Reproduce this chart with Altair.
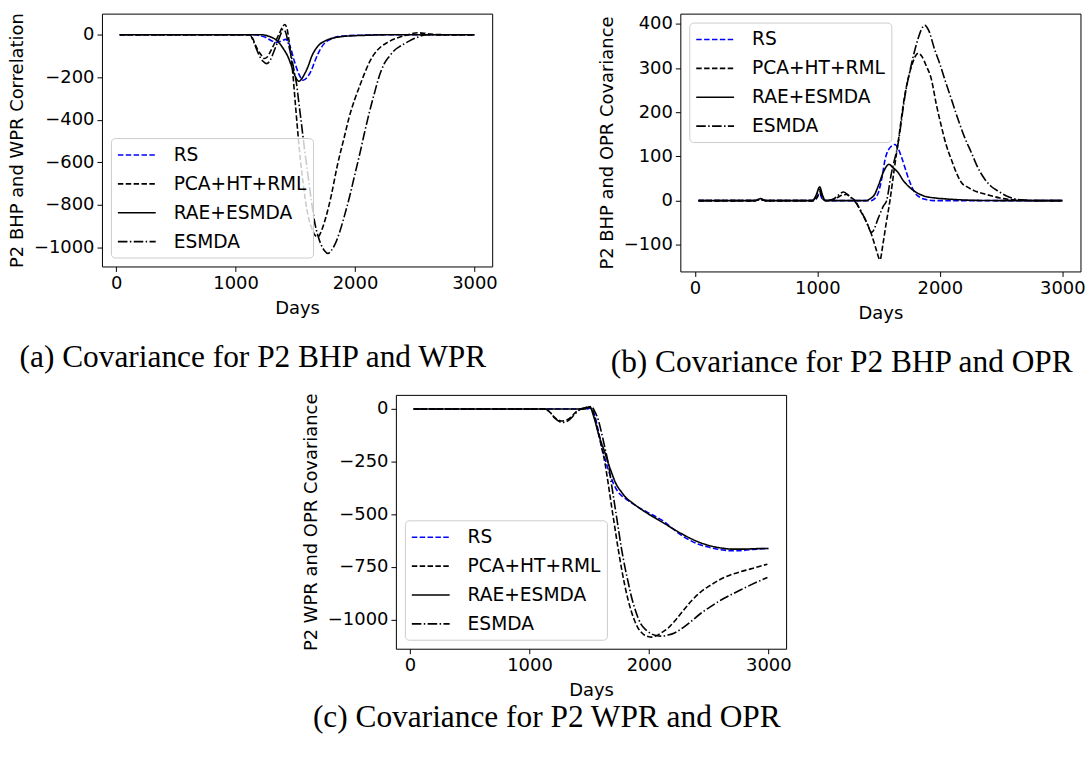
import altair as alt
import pandas as pd

METHODS = ["RS", "PCA+HT+RML", "RAE+ESMDA", "ESMDA"]
COLORS = ["#0000ff", "#000000", "#000000", "#000000"]
DASHES = [[5.5, 2.4], [5.5, 2.4], [1, 0], [9.6, 2.4, 1.5, 2.4]]

# ---------------- Panel (a): P2 BHP and WPR ----------------
a_rs_days = [30, 1130, 1200, 1250, 1300, 1340, 1380, 1420, 1450, 1490, 1530, 1565, 1600, 1635, 1660, 1690,
             1730, 1773, 1820, 1857, 1950, 2079, 2200, 3000]
a_rs_vals = [0, 0, -4, -12, -28, -36, -30, -22, -45, -120, -185, -214, -200, -167, -130, -90,
             -50, -28, -15, -9, -4, -2, 0, 0]
a_pca_days = [30, 1121, 1145, 1162, 1190, 1218, 1240, 1265, 1300, 1340, 1370, 1395, 1412, 1430, 1455, 1482,
              1500, 1524, 1545, 1565, 1585, 1607, 1635, 1662, 1690, 1720, 1760, 1801, 1850, 1912, 1950,
              1996, 2040, 2079, 2120, 2162, 2220, 2273, 2340, 2412, 2470, 2523, 2580, 2634, 2750, 3000]
a_pca_vals = [0, 0, -20, -43, -75, -98, -112, -105, -70, -25, 10, 38, 48, 30, -60, -198,
              -320, -477, -600, -694, -780, -850, -905, -940, -950, -920, -850, -756, -620, -477, -390,
              -307, -240, -183, -130, -90, -55, -36, -18, -5, 4, 9, 7, 3, 0, 0]
a_rae_days = [30, 1218, 1260, 1301, 1340, 1371, 1405, 1440, 1470, 1496, 1515, 1529, 1550, 1579, 1610, 1635,
              1670, 1704, 1740, 1773, 1830, 1885, 1980, 2079, 2200, 2350, 3000]
a_rae_vals = [0, 0, -4, -12, -25, -43, -70, -105, -150, -191, -212, -219, -210, -183, -145, -105,
              -68, -45, -32, -23, -14, -9, -5, -3, -1, 0, 0]
a_esm_days = [30, 1121, 1145, 1170, 1200, 1230, 1260, 1290, 1320, 1357, 1380, 1398, 1420, 1445, 1470, 1490,
              1510, 1530, 1551, 1580, 1607, 1635, 1662, 1690, 1718, 1745, 1773, 1800, 1829, 1870, 1912,
              1955, 1996, 2040, 2079, 2120, 2162, 2200, 2245, 2290, 2329, 2370, 2412, 2470, 2523, 2607, 3000]
a_esm_vals = [0, 0, -25, -60, -100, -125, -136, -120, -80, -28, 5, 26, 10, -50, -110, -170,
              -229, -320, -415, -550, -663, -780, -880, -945, -989, -1015, -1028, -1015, -989, -930, -850,
              -760, -663, -560, -462, -365, -276, -200, -136, -100, -74, -57, -43, -25, -12, 0, 0]

# ---------------- Panel (b): P2 BHP and OPR ----------------
b_rs_days = [30, 490, 536, 580, 965, 1000, 1019, 1040, 1070, 1440, 1470, 1498, 1530, 1553, 1600, 1634,
             1660, 1688, 1715, 1742, 1770, 1796, 1840, 1878, 1950, 3000]
b_rs_vals = [0, 0, 3, 0, 0, 8, 17, 4, 0, 0, 5, 18, 55, 93, 122, 127,
             118, 98, 75, 52, 32, 18, 7, 3, 0, 0]
b_pca_days = [30, 490, 536, 580, 965, 1000, 1019, 1040, 1070, 1150, 1200, 1240, 1280, 1308, 1350, 1390,
              1444, 1480, 1512, 1535, 1560, 1593, 1625, 1661, 1715, 1770, 1800, 1824, 1850, 1890, 1932,
              1970, 2013, 2050, 2094, 2140, 2176, 2230, 2284, 2350, 2419, 2490, 2555, 2650, 2750, 3000]
b_pca_vals = [0, 0, 3, 0, 0, 8, 20, 5, 0, 5, 12, 14, 6, 0, -22, -42,
              -78, -110, -134, -100, -55, 0, 65, 135, 240, 305, 327, 334, 328, 305, 274,
              220, 168, 128, 93, 60, 41, 30, 22, 16, 11, 6, 3, 1, 0, 0]
b_rae_days = [30, 490, 536, 580, 962, 990, 1019, 1045, 1065, 1400, 1430, 1470, 1500, 1540, 1585, 1620,
              1661, 1700, 1742, 1800, 1877, 1960, 2040, 2150, 2300, 2500, 3000]
b_rae_vals = [0, 0, 4.5, 0, 0, 12, 31, 10, 0, 0, 4, 15, 35, 65, 82, 74,
              63, 46, 33, 20, 10, 6, 4, 2, 0.5, 0, 0]
b_esm_days = [30, 490, 536, 580, 962, 990, 1019, 1045, 1065, 1130, 1170, 1214, 1260, 1300, 1350, 1400,
              1444, 1500, 1540, 1566, 1600, 1661, 1715, 1770, 1824, 1850, 1878, 1910, 1959, 2000, 2041,
              2100, 2149, 2200, 2257, 2310, 2366, 2420, 2474, 2540, 2610, 2700, 2800, 3000]
b_esm_vals = [0, 0, 3, 0, 0, 10, 25, 8, 0, 3, 12, 19.6, 10, 0, -20, -48,
              -72, -38, -12, 0, 55, 132, 236, 311, 368, 388, 397, 385, 341, 310, 274,
              225, 184, 145, 109, 75, 49, 32, 22, 11, 4, 1, 0, 0]

# ---------------- Panel (c): P2 WPR and OPR ----------------
c_rs_days = [30, 1480, 1510, 1547, 1575, 1603, 1630, 1658, 1700, 1742, 1785, 1825, 1900, 1992, 2060, 2131,
             2200, 2270, 2340, 2409, 2480, 2547, 2620, 2686, 2750, 2797, 2900, 3000]
c_rs_vals = [0, 0, 5, -33, -100, -175, -232, -285, -350, -394, -418, -434, -462, -492, -512, -536,
             -568, -599, -622, -641, -653, -662, -669, -673, -673, -671, -665, -662]
c_pca_days = [30, 1130, 1170, 1210, 1269, 1320, 1370, 1408, 1440, 1480, 1505, 1530, 1575, 1603, 1631, 1658,
              1686, 1714, 1742, 1770, 1797, 1825, 1853, 1880, 1908, 1936, 1964, 1992, 2020, 2060, 2103,
              2160, 2214, 2280, 2353, 2430, 2520, 2600, 2686, 2770, 2853, 2930, 2992]
c_pca_vals = [0, 0, -15, -40, -57, -50, -25, -5, 2, 8, 10, -10, -112, -180, -253, -350,
              -457, -560, -662, -755, -835, -905, -961, -1005, -1039, -1060, -1074, -1080, -1083, -1077, -1063,
              -1040, -1008, -962, -913, -870, -835, -808, -787, -772, -759, -746, -737]
c_rae_days = [30, 1464, 1505, 1540, 1575, 1603, 1631, 1658, 1686, 1720, 1770, 1810, 1853, 1920, 1992, 2060,
              2131, 2200, 2270, 2340, 2409, 2480, 2547, 2620, 2686, 2797, 2900, 3000]
c_rae_vals = [0, 0, 9, -40, -112, -162, -206, -255, -300, -350, -394, -422, -442, -470, -497, -520,
              -544, -568, -591, -612, -630, -644, -654, -661, -665, -665, -663, -662]
c_esm_days = [30, 1130, 1170, 1210, 1275, 1325, 1375, 1415, 1450, 1490, 1515, 1545, 1575, 1603, 1630, 1658,
              1686, 1714, 1742, 1770, 1797, 1825, 1853, 1881, 1908, 1936, 1978, 2020, 2060, 2103, 2160,
              2214, 2280, 2353, 2430, 2520, 2600, 2686, 2770, 2853, 2930, 2992]
c_esm_vals = [0, 0, -15, -42, -64, -55, -28, -5, 3, 9, 12, -10, -50, -112, -180, -253,
              -355, -457, -560, -662, -745, -819, -890, -945, -990, -1024, -1050, -1067, -1075, -1078, -1073,
              -1063, -1040, -1008, -972, -937, -908, -882, -858, -835, -815, -800]

X_TICKS = [0, 1000, 2000, 3000]
A_YTICKS = [0, -200, -400, -600, -800, -1000]
B_YTICKS = [-100, 0, 100, 200, 300, 400]
C_YTICKS = [0, -250, -500, -750, -1000]


def make_df(series):
    rows = []
    for name, days, vals in series:
        for i, (d, v) in enumerate(zip(days, vals)):
            rows.append({"Method": name, "Days": d, "Value": v, "order": i})
    return pd.DataFrame(rows)


def panel(df, ydom, yticks, ytitle, caption, lorient, w, h, cap_offset):
    leg = alt.Legend(
        title=None, orient=lorient, offset=9, padding=6, rowPadding=8,
        symbolType="M-1,0H2.8", symbolSize=400, symbolStrokeWidth=1.7,
        labelFont="DejaVu Sans", labelFontSize=18.7, labelColor="black",
        labelOffset=35, labelLimit=400,
        strokeColor="#cccccc", fillColor="rgba(255,255,255,0.8)", cornerRadius=4,
    )
    return alt.Chart(df).mark_line(strokeWidth=1.6, interpolate="monotone").encode(
        x=alt.X("Days:Q", scale=alt.Scale(domain=[-118.5, 3148.5], nice=False, zero=False),
                axis=alt.Axis(values=X_TICKS, format="d", title="Days")),
        y=alt.Y("Value:Q", scale=alt.Scale(domain=ydom, nice=False, zero=False),
                axis=alt.Axis(values=yticks, format="d", title=ytitle)),
        color=alt.Color("Method:N", scale=alt.Scale(domain=METHODS, range=COLORS), legend=leg),
        strokeDash=alt.StrokeDash("Method:N", scale=alt.Scale(domain=METHODS, range=DASHES), legend=leg),
        order="order:Q",
    ).properties(
        width=w, height=h,
        title=alt.TitleParams(caption, orient="bottom", anchor="middle", frame="bounds",
                              font="Liberation Serif", fontSize=31.5, fontWeight="normal",
                              color="black", offset=cap_offset),
    )


dfa = make_df([("RS", a_rs_days, a_rs_vals), ("PCA+HT+RML", a_pca_days, a_pca_vals),
               ("RAE+ESMDA", a_rae_days, a_rae_vals), ("ESMDA", a_esm_days, a_esm_vals)])
dfb = make_df([("RS", b_rs_days, b_rs_vals), ("PCA+HT+RML", b_pca_days, b_pca_vals),
               ("RAE+ESMDA", b_rae_days, b_rae_vals), ("ESMDA", b_esm_days, b_esm_vals)])
dfc = make_df([("RS", c_rs_days, c_rs_vals), ("PCA+HT+RML", c_pca_days, c_pca_vals),
               ("RAE+ESMDA", c_rae_days, c_rae_vals), ("ESMDA", c_esm_days, c_esm_vals)])

pa = panel(dfa, [-1089, 99], A_YTICKS, "P2 BHP and WPR Correlation",
           "(a) Covariance for P2 BHP and WPR", "bottom-left", 392, 254, 25)
pb = panel(dfb, [-160.5, 423.5], B_YTICKS, "P2 BHP and OPR Covariance",
           "(b) Covariance for P2 BHP and OPR", "top-left", 402, 259, 25)
pc = panel(dfc, [-1138, 67], C_YTICKS, "P2 WPR and OPR Covariance",
           "(c) Covariance for P2 WPR and OPR", "bottom-left", 392, 255, 3)

top = alt.hconcat(pa, pb, spacing=100)
chart = alt.vconcat(top, pc, spacing=13, center=True).resolve_scale(
    color="independent", strokeDash="independent"
).properties(
    padding={"left": 8, "top": 10, "right": 5, "bottom": 5},
    background="white",
).configure_view(
    stroke="black", strokeWidth=1
).configure_axis(
    domain=False, grid=False, ticks=True, tickColor="black", tickSize=5, tickWidth=1,
    labelFont="DejaVu Sans", labelFontSize=18, labelColor="black", labelPadding=3,
    titleFont="DejaVu Sans", titleFontSize=18, titleFontWeight="normal", titleColor="black",
    titlePadding=7,
).configure_legend(
    symbolFillColor="transparent"
)

chart.save("out.html", embed_options={"renderer": "svg", "actions": False})
